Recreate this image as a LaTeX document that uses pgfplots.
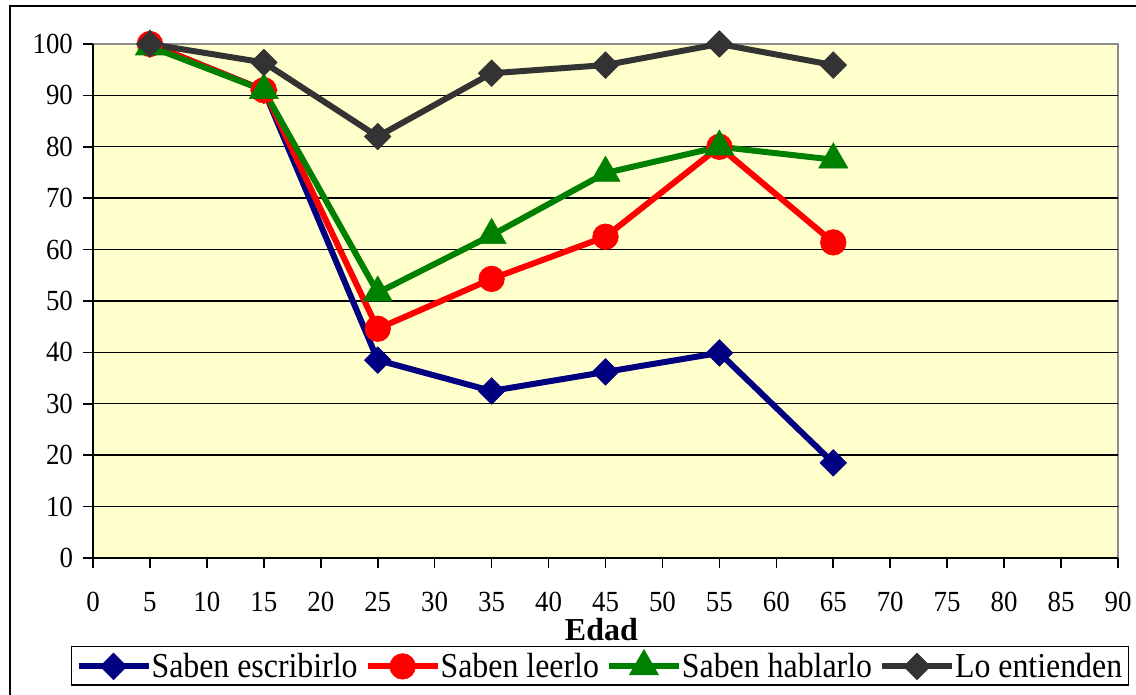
\documentclass[border=0pt]{standalone}
\usepackage{fontspec}
\setmainfont{Liberation Serif}
\newfontfamily\tickfont[FakeStretch=0.92]{Liberation Serif}
\newfontfamily\legfont[FakeStretch=0.91]{Liberation Serif}
\usepackage{pgfplots}
\pgfplotsset{compat=1.18}
\definecolor{bgY}{RGB}{255,255,204}
\definecolor{navyc}{RGB}{0,0,128}
\definecolor{greenc}{RGB}{0,128,0}
\definecolor{darkc}{RGB}{51,51,51}
\definecolor{framegray}{RGB}{140,140,140}
\begin{document}
\begin{tikzpicture}
\path[use as bounding box] (0,0) rectangle (568pt,347.5pt);
\clip (0,0) rectangle (568pt,347.5pt);
\draw[black, line width=1pt] (5pt,-20pt) rectangle (620pt,344.5pt);
\begin{axis}[
  at={(46.5pt,68.5pt)}, anchor=south west,
  scale only axis, width=512.5pt, height=257pt,
  xmin=0, xmax=90, ymin=0, ymax=100,
  clip=false,
  axis background/.style={fill=bgY, draw=framegray, line width=1.2pt},
  axis x line=bottom, axis y line=left,
  axis line style={-, black, line width=1pt},
  xtick={0,5,...,90},
  ytick={0,10,...,90},
  extra y ticks={100},
  extra y tick style={grid=none},
  ymajorgrids,
  major grid style={black, line width=0.7pt},
  tick align=outside, major tick length=5pt,
  tick style={black, line width=0.8pt},
  /pgf/number format/assume math mode=true,
  tick label style={font=\tickfont\fontsize{14.6}{14.6}\selectfont},
  xticklabel style={anchor=base, yshift=-22pt},
  yticklabel style={anchor=east, xshift=-1.5pt},
  xlabel={Edad},
  xlabel style={at={(axis description cs:0.496,-0.14)}, anchor=center, font=\bfseries\fontsize{16}{16}\selectfont},
  legend columns=4,
  legend style={at={(axis description cs:-0.0215,-0.1712)}, anchor=north west,
    draw=black, line width=0.6pt, fill=white, inner xsep=2pt, inner ysep=1.5pt,
    font=\legfont\fontsize{17.5}{17.5}\selectfont,
    /tikz/every odd column/.append style={column sep=-1pt},
    /tikz/every even column/.append style={column sep=2.5pt},
    nodes={inner sep=1pt}},
  legend image code/.code={\draw[mark repeat=2,mark phase=2,#1] plot coordinates {(0pt,0pt)(17.5pt,0pt)(35pt,0pt)};},
]
\addplot[navyc, line width=3pt, mark=square*, mark size=4.7pt, mark options={solid, rotate=45, line width=0.3pt, fill=navyc}]
  coordinates {(5,100)(15,91)(25,38.5)(35,32.5)(45,36.2)(55,39.9)(65,18.5)};
\addlegendentry{Saben escribirlo}
\addplot[red, line width=3pt, mark=*, mark size=6.4pt, mark options={solid, line width=0.3pt, fill=red}]
  coordinates {(5,100)(15,91)(25,44.6)(35,54.3)(45,62.5)(55,80)(65,61.4)};
\addlegendentry{Saben leerlo}
\addplot[greenc, line width=3pt, mark=triangle*, mark size=8.4pt, mark options={solid, line width=0.3pt, fill=greenc}]
  coordinates {(5,99.5)(15,91)(25,51.6)(35,62.8)(45,74.9)(55,80)(65,77.5)};
\addlegendentry{Saben hablarlo}
\addplot[darkc, line width=3pt, mark=square*, mark size=4.7pt, mark options={solid, rotate=45, line width=0.3pt, fill=darkc}]
  coordinates {(5,100)(15,96.4)(25,82)(35,94.3)(45,95.9)(55,100)(65,95.9)};
\addlegendentry{Lo entienden}
\end{axis}
\end{tikzpicture}
\end{document}
